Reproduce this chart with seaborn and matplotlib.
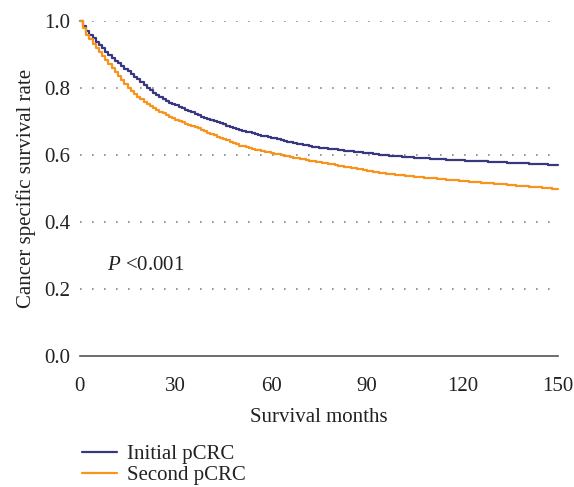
import matplotlib
matplotlib.use("Agg")
import matplotlib.pyplot as plt
import seaborn as sns
import pandas as pd
from matplotlib.lines import Line2D

months = list(range(0, 151))
initial_pcrc = [
    1.000, 0.985, 0.971, 0.958, 0.948, 0.938, 0.928, 0.918, 0.908, 0.899,
    0.890, 0.881, 0.873, 0.865, 0.857, 0.850, 0.843, 0.834, 0.826, 0.817,
    0.808, 0.800, 0.793, 0.786, 0.779, 0.772, 0.766, 0.761, 0.756, 0.752,
    0.748, 0.744, 0.739, 0.735, 0.731, 0.727, 0.722, 0.718, 0.714, 0.711,
    0.707, 0.704, 0.700, 0.697, 0.694, 0.691, 0.687, 0.684, 0.681, 0.678,
    0.675, 0.673, 0.670, 0.668, 0.665, 0.663, 0.661, 0.658, 0.656, 0.654,
    0.652, 0.650, 0.647, 0.645, 0.642, 0.640, 0.638, 0.636, 0.634, 0.632,
    0.631, 0.629, 0.627, 0.625, 0.624, 0.622, 0.621, 0.620, 0.619, 0.618,
    0.617, 0.615, 0.614, 0.613, 0.612, 0.611, 0.610, 0.609, 0.608, 0.607,
    0.606, 0.605, 0.604, 0.602, 0.601, 0.600, 0.599, 0.598, 0.597, 0.596,
    0.596, 0.595, 0.594, 0.593, 0.593, 0.592, 0.591, 0.591, 0.590, 0.590,
    0.589, 0.588, 0.588, 0.587, 0.587, 0.586, 0.586, 0.585, 0.585, 0.584,
    0.584, 0.583, 0.583, 0.582, 0.582, 0.582, 0.581, 0.581, 0.580, 0.580,
    0.579, 0.579, 0.578, 0.578, 0.577, 0.577, 0.576, 0.576, 0.576, 0.575,
    0.575, 0.574, 0.574, 0.573, 0.573, 0.572, 0.572, 0.571, 0.571, 0.570,
    0.570,
]
second_pcrc = [
    1.000, 0.978, 0.958, 0.945, 0.932, 0.920, 0.908, 0.895, 0.883, 0.871,
    0.859, 0.847, 0.835, 0.823, 0.811, 0.800, 0.791, 0.782, 0.774, 0.766,
    0.759, 0.752, 0.745, 0.739, 0.734, 0.729, 0.724, 0.719, 0.714, 0.710,
    0.705, 0.701, 0.697, 0.693, 0.690, 0.686, 0.682, 0.679, 0.675, 0.671,
    0.667, 0.663, 0.659, 0.655, 0.652, 0.648, 0.644, 0.640, 0.636, 0.632,
    0.628, 0.626, 0.623, 0.621, 0.618, 0.616, 0.614, 0.612, 0.610, 0.608,
    0.606, 0.604, 0.602, 0.600, 0.598, 0.596, 0.594, 0.592, 0.590, 0.589,
    0.587, 0.585, 0.583, 0.581, 0.580, 0.578, 0.576, 0.575, 0.573, 0.572,
    0.570, 0.568, 0.567, 0.565, 0.564, 0.562, 0.560, 0.558, 0.557, 0.555,
    0.553, 0.552, 0.550, 0.549, 0.547, 0.546, 0.544, 0.543, 0.542, 0.541,
    0.540, 0.539, 0.538, 0.537, 0.536, 0.535, 0.534, 0.533, 0.532, 0.532,
    0.531, 0.530, 0.529, 0.528, 0.527, 0.526, 0.525, 0.524, 0.524, 0.523,
    0.522, 0.521, 0.520, 0.520, 0.519, 0.518, 0.517, 0.516, 0.516, 0.515,
    0.514, 0.513, 0.512, 0.512, 0.511, 0.510, 0.509, 0.508, 0.507, 0.507,
    0.506, 0.505, 0.504, 0.503, 0.503, 0.502, 0.501, 0.500, 0.499, 0.498,
    0.497,
]
group_labels = ["Initial pCRC", "Second pCRC"]
x_ticks = [0, 30, 60, 90, 120, 150]
y_ticks = [0.0, 0.2, 0.4, 0.6, 0.8, 1.0]

df = pd.concat([
    pd.DataFrame({"month": months, "rate": initial_pcrc, "group": group_labels[0]}),
    pd.DataFrame({"month": months, "rate": second_pcrc, "group": group_labels[1]}),
])

sns.set_style("white")
plt.rcParams["font.family"] = ["Liberation Serif", "DejaVu Serif"]
plt.rcParams["mathtext.fontset"] = "custom"
plt.rcParams["mathtext.rm"] = "Liberation Serif"
plt.rcParams["mathtext.it"] = "Liberation Serif:italic"

FS = 15
TXT = "#222222"

fig = plt.figure(figsize=(5.74, 4.87), dpi=100)
ax = fig.add_axes([0.139, 0.269, 0.833, 0.688])

palette = {group_labels[0]: "#38377f", group_labels[1]: "#f7941d"}
sns.lineplot(data=df, x="month", y="rate", hue="group", palette=palette,
             drawstyle="steps-post", linewidth=1.6, ax=ax, legend=False,
             hue_order=group_labels)
for ln in ax.lines:
    ln.set_clip_on(False)

ax.set_xlim(0, 150)
ax.set_ylim(0, 1.0)
ax.set_xticks(x_ticks)
ax.set_xticklabels([str(t) for t in x_ticks])
ax.set_yticks(y_ticks)
ax.set_yticklabels([f"{t:.1f}" for t in y_ticks])
ax.tick_params(axis="both", labelsize=FS, colors="#555555", labelcolor=TXT)
ax.tick_params(axis="x", direction="out", length=5, width=1, pad=10)
ax.tick_params(axis="y", length=0, pad=7)

for s in ["top", "right", "left"]:
    ax.spines[s].set_visible(False)
ax.spines["bottom"].set_color("#555555")
ax.spines["bottom"].set_linewidth(1.2)

for yv in y_ticks[1:]:
    ax.axhline(yv, color="#888888", linestyle=(0, (1, 6.2)), linewidth=1.2, zorder=0)

ax.set_xlabel("Survival months", fontsize=FS, color=TXT, labelpad=9)
ax.set_ylabel("Cancer specific survival rate", fontsize=FS, color=TXT, labelpad=6)

ax.text(8.5, 0.27, "$P$ <0.001", fontsize=FS, color=TXT, va="center", ha="left")

handles = [Line2D([0], [0], color=palette[g], lw=1.6) for g in group_labels]
fig.legend(handles, group_labels, loc="upper left", bbox_to_anchor=(0.143, 0.087),
           frameon=False, fontsize=FS, handlelength=1.68, handletextpad=0.48,
           labelspacing=0.08, borderpad=0, borderaxespad=0, labelcolor=TXT)

fig.savefig("out.png", dpi=100)
